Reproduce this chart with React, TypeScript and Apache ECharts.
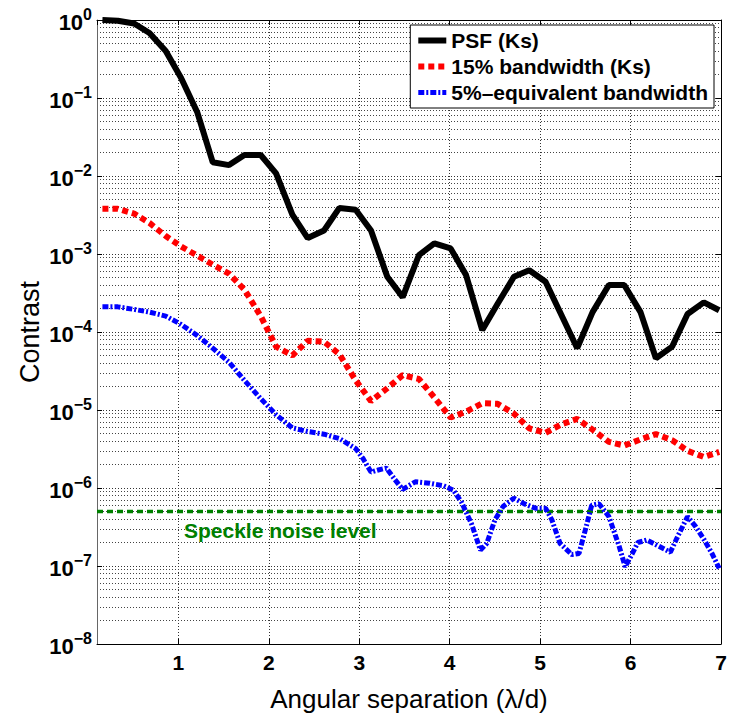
import React, { useEffect, useRef } from 'react';
import * as echarts from 'echarts';

const FONT = '"Liberation Sans", Arial, Helvetica, sans-serif';

// PSF (Ks)
const psfX = [0.16, 0.33, 0.51, 0.68, 0.86, 1.03, 1.21, 1.38, 1.56, 1.73, 1.91, 2.08, 2.26, 2.43, 2.61, 2.78, 2.96, 3.13, 3.31, 3.48, 3.66, 3.83, 4.01, 4.18, 4.36, 4.53, 4.71, 4.88, 5.06, 5.23, 5.41, 5.58, 5.76, 5.93, 6.11, 6.28, 6.46, 6.63, 6.81, 6.98];
const psfY = [1.0, 0.98, 0.9, 0.68, 0.4, 0.18, 0.065, 0.015, 0.0138, 0.0186, 0.0186, 0.0108, 0.0032, 0.0016, 0.002, 0.0039, 0.0037, 0.002, 5.1e-4, 2.8e-4, 9.7e-4, 1.37e-3, 1.18e-3, 5.4e-4, 1.06e-4, 2.3e-4, 5.1e-4, 6.2e-4, 4.4e-4, 1.7e-4, 6.2e-5, 1.8e-4, 4.0e-4, 4.0e-4, 1.8e-4, 4.6e-5, 6.5e-5, 1.7e-4, 2.4e-4, 1.9e-4];

// 15% bandwidth (Ks)
const bw15X = [0.16, 0.33, 0.51, 0.68, 0.86, 1.03, 1.21, 1.38, 1.56, 1.73, 1.91, 2.08, 2.26, 2.43, 2.61, 2.78, 2.96, 3.13, 3.31, 3.48, 3.66, 3.83, 4.01, 4.18, 4.36, 4.53, 4.71, 4.88, 5.06, 5.23, 5.41, 5.58, 5.76, 5.93, 6.11, 6.28, 6.46, 6.63, 6.81, 6.98];
const bw15Y = [3.8e-3, 3.8e-3, 3.3e-3, 2.5e-3, 1.7e-3, 1.25e-3, 9.5e-4, 7.3e-4, 5.6e-4, 3.5e-4, 1.6e-4, 6.5e-5, 5.0e-5, 7.7e-5, 7.5e-5, 5.2e-5, 2.4e-5, 1.3e-5, 1.9e-5, 2.8e-5, 2.5e-5, 1.45e-5, 8.0e-6, 9.5e-6, 1.22e-5, 1.2e-5, 9.0e-6, 5.8e-6, 5.1e-6, 6.5e-6, 7.7e-6, 5.6e-6, 3.9e-6, 3.5e-6, 4.2e-6, 4.9e-6, 4.1e-6, 3.0e-6, 2.5e-6, 2.9e-6];

// 5%-equivalent bandwidth
const bw5X = [0.16, 0.33, 0.51, 0.68, 0.86, 1.03, 1.21, 1.38, 1.56, 1.73, 1.91, 2.08, 2.26, 2.43, 2.61, 2.78, 2.96, 3.04, 3.13, 3.21, 3.30, 3.39, 3.48, 3.62, 3.78, 3.93, 4.04, 4.13, 4.24, 4.34, 4.41, 4.50, 4.59, 4.71, 4.82, 4.95, 5.06, 5.13, 5.22, 5.35, 5.43, 5.50, 5.57, 5.65, 5.76, 5.87, 5.94, 6.02, 6.08, 6.18, 6.31, 6.44, 6.51, 6.63, 6.72, 6.81, 6.90, 6.98];
const bw5Y = [2.1e-4, 2.1e-4, 1.95e-4, 1.8e-4, 1.6e-4, 1.25e-4, 9.0e-5, 6.2e-5, 4.1e-5, 2.4e-5, 1.4e-5, 8.7e-6, 5.9e-6, 5.3e-6, 4.9e-6, 4.3e-6, 3.2e-6, 2.4e-6, 1.6e-6, 1.7e-6, 1.8e-6, 1.3e-6, 9.6e-7, 1.2e-6, 1.15e-6, 1.07e-6, 9.4e-7, 6.6e-7, 3.5e-7, 1.6e-7, 1.95e-7, 3.9e-7, 5.8e-7, 7.4e-7, 6.3e-7, 5.5e-7, 5.5e-7, 3.9e-7, 1.95e-7, 1.4e-7, 1.45e-7, 2.9e-7, 6.0e-7, 6.3e-7, 4.3e-7, 1.85e-7, 9.8e-8, 1.45e-7, 2.0e-7, 2.15e-7, 1.8e-7, 1.5e-7, 2.25e-7, 4.3e-7, 3.2e-7, 2.2e-7, 1.45e-7, 9.3e-8];

// Speckle noise level
const speckleX = [0.1, 7];
const speckleY = [5e-7, 5e-7];

const X_MIN = 0.1;
const X_MAX = 7;
const decades = [-8, -7, -6, -5, -4, -3, -2, -1];
const minorMultipliers = [2, 3, 4, 5, 6, 7, 8, 9];

const seriesNames = ['PSF (Ks)', '15% bandwidth (Ks)', '5%\u2013equivalent bandwidth'];

const psfStyle = { color: '#000', width: 6, type: 'solid' as any };
const bw15Style = { color: '#ff0000', width: 6, type: [6, 4] as any, cap: 'butt' as any };
const bw5Style = { color: '#0000ff', width: 5, type: [6, 2, 2, 2] as any, cap: 'butt' as any };

function pairs(xs: number[], ys: number[]) {
  return xs.map((x, i) => [x, ys[i]]);
}

export default function App() {
  const ref = useRef<HTMLDivElement>(null);
  useEffect(() => {
    const chart = echarts.init(ref.current!, null, { renderer: 'svg' });
    const minorLines: any[] = [];
    decades.forEach((d) =>
      minorMultipliers.forEach((m) => {
        const v = m * Math.pow(10, d);
        minorLines.push({ coords: [[X_MIN, v], [X_MAX, v]] });
      })
    );
    const dotted = { type: [1, 2] as any, color: '#333', width: 1 };
    const option: any = {
      animation: false,
      backgroundColor: '#fff',
      grid: { left: 97, right: 15, top: 20, bottom: 75, containLabel: false },
      legend: {
        orient: 'vertical',
        right: 22,
        top: 25,
        data: [
          { name: seriesNames[0], lineStyle: psfStyle },
          { name: seriesNames[1], lineStyle: bw15Style },
          { name: seriesNames[2], lineStyle: bw5Style },
        ],
        itemWidth: 28,
        itemHeight: 14,
        itemGap: 5,
        padding: [5, 6, 5, 5],
        borderColor: '#000',
        borderWidth: 1,
        backgroundColor: '#fff',
        itemStyle: { opacity: 0 },
        textStyle: { fontFamily: FONT, fontWeight: 'bold', fontSize: 21, color: '#000' },
      },
      xAxis: [
        {
          type: 'value',
          min: X_MIN,
          max: X_MAX,
          splitNumber: 7,
          position: 'bottom',
          name: 'Angular separation (\u03bb/d)',
          nameLocation: 'middle',
          nameGap: 42,
          nameMoveOverlap: false,
          nameTextStyle: { fontFamily: FONT, fontSize: 26, color: '#000' },
          axisLine: { show: true, onZero: false, lineStyle: { color: '#000', width: 1 } },
          axisTick: { show: true, inside: true, length: 5, lineStyle: { color: '#000' } },
          axisLabel: {
            show: true,
            margin: 8,
            fontFamily: FONT,
            fontWeight: 'bold',
            fontSize: 21,
            color: '#000',
            showMinLabel: false,
            formatter: (v: number) => (Math.abs(v - Math.round(v)) < 1e-6 ? String(Math.round(v)) : ''),
          },
          splitLine: { show: true, lineStyle: dotted },
        },
        {
          type: 'value',
          min: X_MIN,
          max: X_MAX,
          splitNumber: 7,
          position: 'top',
          axisLine: { show: true, onZero: false, lineStyle: { color: '#000', width: 1 } },
          axisTick: { show: true, inside: true, length: 5, lineStyle: { color: '#000' } },
          axisLabel: { show: false },
          splitLine: { show: false },
        },
      ],
      yAxis: [
        {
          type: 'log',
          logBase: 10,
          min: 1e-8,
          max: 1,
          position: 'left',
          name: 'Contrast',
          nameLocation: 'middle',
          nameGap: 54,
          nameRotate: 90,
          nameMoveOverlap: false,
          nameTextStyle: { fontFamily: FONT, fontSize: 27, color: '#000' },
          axisLine: { show: true, onZero: false, lineStyle: { color: '#666', width: 1 } },
          axisTick: { show: true, inside: true, length: 5, lineStyle: { color: '#000' } },
          axisLabel: {
            show: true,
            margin: 5,
            formatter: (v: number) => {
              const e = Math.round(Math.log10(v));
              const s = e < 0 ? '\u2212' + -e : String(e);
              return `{b|10}{s|${s}}`;
            },
            rich: {
              b: { fontFamily: FONT, fontWeight: 'bold', fontSize: 22, color: '#000', verticalAlign: 'bottom' },
              s: { fontFamily: FONT, fontWeight: 'bold', fontSize: 16, color: '#000', verticalAlign: 'bottom', padding: [0, 0, 11, 0] },
            },
          },
          splitLine: { show: true, lineStyle: dotted },
        },
        {
          type: 'log',
          logBase: 10,
          min: 1e-8,
          max: 1,
          position: 'right',
          axisLine: { show: true, onZero: false, lineStyle: { color: '#000', width: 1 } },
          axisTick: { show: true, inside: true, length: 5, lineStyle: { color: '#000' } },
          axisLabel: { show: false },
          splitLine: { show: false },
        },
      ],
      series: [
        {
          type: 'lines',
          name: 'minor-grid',
          coordinateSystem: 'cartesian2d',
          xAxisIndex: 0,
          yAxisIndex: 0,
          silent: true,
          z: 0,
          symbol: ['none', 'none'],
          lineStyle: { type: [1, 2], color: '#444', width: 1, opacity: 1 },
          data: minorLines,
        },
        {
          type: 'line',
          name: 'Speckle',
          data: pairs(speckleX, speckleY),
          showSymbol: false,
          symbol: 'none',
          z: 3,
          lineStyle: { color: '#008000', width: 3.5, type: [6, 4], cap: 'butt' },
          itemStyle: { color: '#008000' },
        },
        {
          type: 'line',
          name: seriesNames[0],
          data: pairs(psfX, psfY),
          showSymbol: false,
          symbol: 'none',
          z: 4,
          lineStyle: psfStyle,
          itemStyle: { color: '#000' },
        },
        {
          type: 'line',
          name: seriesNames[1],
          data: pairs(bw15X, bw15Y),
          showSymbol: false,
          symbol: 'none',
          z: 4,
          lineStyle: bw15Style,
          itemStyle: { color: '#ff0000' },
        },
        {
          type: 'line',
          name: seriesNames[2],
          data: pairs(bw5X, bw5Y),
          showSymbol: false,
          symbol: 'none',
          z: 4,
          lineStyle: bw5Style,
          itemStyle: { color: '#0000ff' },
        },
      ],
      graphic: [
        {
          type: 'text',
          left: 184,
          top: 520,
          z: 10,
          style: {
            text: 'Speckle noise level',
            fontFamily: FONT,
            fontWeight: 'bold',
            fontSize: 21,
            fill: '#008000',
          },
        },
      ],
    };
    chart.setOption(option);
    return () => chart.dispose();
  }, []);
  return <div ref={ref} style={{ position: 'fixed', left: 0, top: 0, width: 736, height: 719 }} />;
}
